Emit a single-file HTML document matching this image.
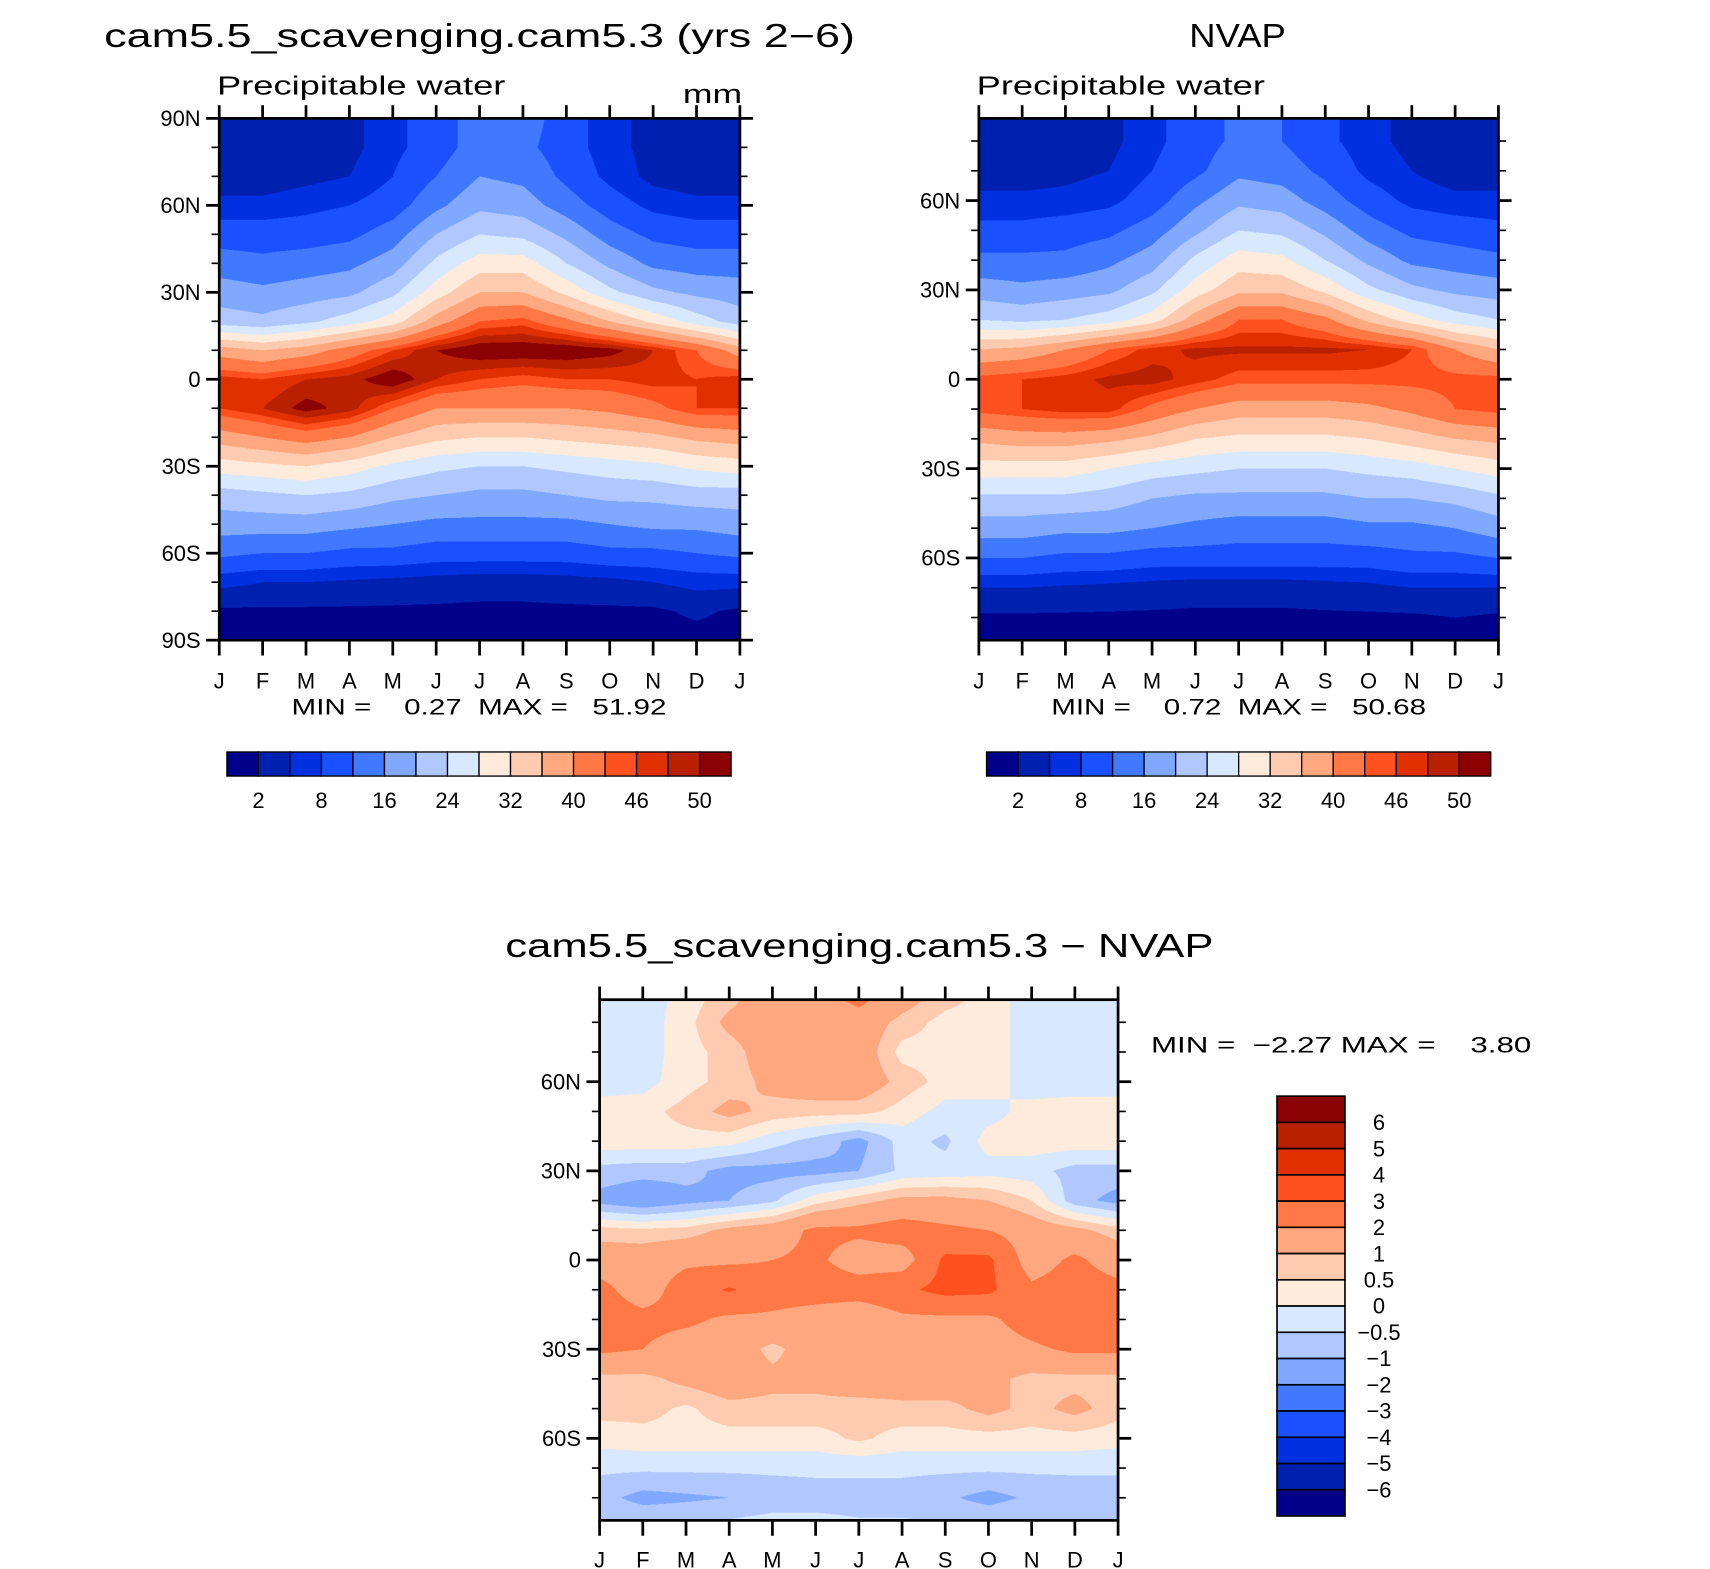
<!DOCTYPE html>
<html><head><meta charset="utf-8">
<style>
html,body{margin:0;padding:0;background:#fff;}
body{width:1710px;height:1568px;overflow:hidden;position:relative;}
#wrap{position:absolute;left:0;top:0;width:1560px;height:1431px;transform:scale(1.09615);transform-origin:0 0;}
canvas{position:absolute;}
#ov{position:absolute;left:0;top:0;}
text{font-family:"Liberation Sans",sans-serif;fill:#000;white-space:pre;}
</style></head>
<body>
<div id="wrap">
<canvas id="c1" style="left:200px;top:108px;width:475px;height:476px" width="950" height="952"></canvas>
<canvas id="c2" style="left:893px;top:108px;width:474px;height:476px" width="948" height="952"></canvas>
<canvas id="c3" style="left:547px;top:912px;width:473px;height:475px" width="946" height="950"></canvas>
<svg id="ov" width="1560" height="1431" viewBox="0 0 1560 1431" xml:space="preserve">
<text x="95" y="43" font-size="30" textLength="685" lengthAdjust="spacingAndGlyphs">cam5.5_scavenging.cam5.3 (yrs 2−6)</text>
<text x="1085" y="43" font-size="30" textLength="88" lengthAdjust="spacingAndGlyphs">NVAP</text>
<text x="198" y="86" font-size="24" textLength="263" lengthAdjust="spacingAndGlyphs">Precipitable water</text>
<text x="623" y="94" font-size="24" textLength="54" lengthAdjust="spacingAndGlyphs">mm</text>
<text x="891" y="86" font-size="24" textLength="263" lengthAdjust="spacingAndGlyphs">Precipitable water</text>
<text x="266" y="652" font-size="20" textLength="342" lengthAdjust="spacingAndGlyphs">MIN =    0.27  MAX =   51.92</text>
<text x="959" y="652" font-size="20" textLength="342" lengthAdjust="spacingAndGlyphs">MIN =    0.72  MAX =   50.68</text>
<text x="461" y="873" font-size="30" textLength="646" lengthAdjust="spacingAndGlyphs">cam5.5_scavenging.cam5.3 − NVAP</text>
<text x="1050" y="960" font-size="20" textLength="347" lengthAdjust="spacingAndGlyphs">MIN =  −2.27 MAX =    3.80</text>
<g id="g"></g>
</svg>
</div>
<script>
const months=['J','F','M','A','M','J','J','A','S','O','N','D','J'];
const lats=[90,80,70,60,50,40,30,20,10,0,-10,-20,-30,-40,-50,-60,-70,-80,-90];
const levelsPW=[2,5,8,12,16,20,24,28,32,36,40,44,46,48,50];
const levelsDiff=[-6,-5,-4,-3,-2,-1,-0.5,0,0.5,1,2,3,4,5,6];
const pwTickLabels=['2','8','16','24','32','40','46','50'];
const diffTickLabels=['−6','−5','−4','−3','−2','−1','−0.5','0','0.5','1','2','3','4','5','6'];
const colors=['#00008b','#0020b0','#0030e0','#1a50ff','#4078ff','#80a8ff','#b0c8ff','#d8e8ff','#ffebdb','#ffcbb0','#ffa880','#ff7845','#ff5020','#e03000','#b82000','#8b0000'];
// model precipitable water (mm): rows = months J..J, cols = lats 90N..90S
const modelPW=[
[3,3,3,6,10,14,18,22,38,47,46,38,30,22,18,13,6,1.5,1],
[3,3,3,6,10,13,17,21,36,46,48,40,31,23,18,12,5,1.5,1],
[4,4,4,7,10,14,18,23,38,48,51,42,32,24,18,12,5,1.5,1],
[4,4,5,8,11,15,19,26,42,49,49,40,30,23,17,11,4.5,1.5,1],
[7,7,8,10,14,18,23,30,46,52,44,36,27,21,16,11,4,1.5,1],
[10,10,12,15,20,25,30,38,50,48,40,33,25,20,15,10,3.5,1.5,1],
[14,14,16,19,24,30,36,44,52,46,40,32,24,19,15,10,3,1.5,1],
[14,13,15,18,23,30,36,45,52,45,40,32,24,19,15,10,3,1.5,1],
[10,10,11,14,19,24,31,41,52,46,40,33,25,20,15,10,3.5,1.5,1],
[6,6,7,10,14,19,25,36,51,46,41,34,26,21,16,11,4,1.5,1],
[4,4,4,7,11,15,21,31,48,47,43,35,27,21,17,11,5,1.5,1],
[3,3,3,6,10,14,19,26,44,46,46,37,29,22,17,12,6,2.5,1],
[3,3,3,6,10,14,18,22,38,47,46,38,30,22,18,13,6,1.5,1]];
// NVAP precipitable water (mm)
const nvapPW=[
[3,3,3,6,9,13,18,24,36,45,45,37,30,23,18,12,5,1.5,1],
[3,3,3,6,9,13,17,23,37,46,46,38,30,23,18,12,5,1.5,1],
[3,3,4,6,10,13,18,24,40,47,47,38,30,23,17,11,4.5,1.5,1],
[4,4,5,7,11,15,19,26,44,48.5,47,37,28,22,17,11,4,1.5,1],
[7,7,8,10,14,18,23,30,47,49,43,35,26,20,16,10,3.5,1.5,1],
[10,10,11,15,19,25,30,38,48.5,47,40,32,25,19,15,10,3,1.5,1],
[13,13,15,19,24,30,35,44,48.5,45,38,31,24,19,14,10,3,1.5,1],
[12,12,14,18,23,29,35,44,48.5,45,38,31,24,19,14,10,3,1.5,1],
[9,9,11,14,19,24,31,41,48.5,45,38,31,24,19,14,10,3.5,1.5,1],
[6,6,7,10,14,19,25,35,48,45,39,32,25,20,15,10,4,1.5,1],
[4,4,5,7,11,15,21,30,46,45,41,34,26,20,15,11,5,1.5,1],
[3,3,3,6,10,14,19,26,40,45,44,36,28,21,16,11,5,2,1],
[3,3,3,6,9,13,18,24,36,45,45,37,30,23,18,12,5,1.5,1]];
// difference model - NVAP (mm)
const diffPW=[
[-0.3,-0.3,-0.3,-0.3,0.3,0.3,-0.7,-1.2,0.7,1.5,2.3,2.5,2.2,0.8,0.7,0.2,-0.4,-0.8,-0.4],
[-0.3,-0.3,-0.3,-0.2,0.3,0.3,-0.8,-1.5,0.6,1.5,1.5,2.3,2.0,0.8,0.7,0.3,-0.4,-1.2,-0.4],
[0.2,0.3,0.3,0.3,0.7,0.3,-0.8,-1.2,0.7,1.8,2.5,2.2,1.5,1.2,0.4,0.3,-0.4,-1.1,-0.4],
[0.7,1.2,0.7,0.7,1.2,0.2,-1.2,-1.0,1.2,1.8,3.1,1.8,1.5,1.5,0.8,0.3,-0.4,-1.0,-0.3],
[1.5,1.5,1.5,1.2,0.8,-0.3,-1.2,-0.6,1.5,2.0,2.5,1.8,0.8,1.2,0.8,0.3,-0.4,-0.8,-0.2],
[1.5,1.5,1.5,1.5,0.7,-0.7,-1.2,0.3,2.2,2.2,2.5,1.5,1.5,1.2,0.8,0.3,-0.4,-0.7,-0.3],
[2.5,1.5,1.5,1.5,0.7,-1.2,-1.0,0.8,2.2,1.5,2.5,1.2,1.5,1.5,0.7,0.6,-0.4,-0.7,-0.4],
[1.5,0.8,0.3,0.8,0.3,-0.3,-0.4,1.2,2.5,1.5,2.8,1.8,1.5,1.5,0.8,0.3,-0.4,-0.7,-0.4],
[0.8,0.3,0.3,0.3,-0.2,-0.6,-0.3,1.2,2.2,3.2,3.3,1.8,1.5,1.5,0.8,0.3,-0.4,-0.9,-0.4],
[0.3,0.3,0.3,0.3,-0.2,0.2,-0.2,1.0,2.0,3.2,3.2,1.8,1.5,1.2,1.2,0.3,-0.4,-1.2,-0.4],
[-0.3,-0.3,-0.3,-0.3,0.2,0.3,-0.3,0.5,1.5,1.5,2.2,2.5,1.8,0.8,0.8,0.3,-0.4,-0.9,-0.4],
[-0.3,-0.3,-0.3,-0.3,0.3,0.3,-0.7,-0.8,1.2,2.2,2.5,3.0,2.2,0.8,1.2,0.3,-0.4,-0.8,-0.4],
[-0.3,-0.3,-0.3,-0.3,0.3,0.3,-0.7,-1.2,0.7,1.5,2.3,2.5,2.2,0.8,0.7,0.2,-0.4,-0.8,-0.4]];

function sample(t,m,lat){
  let i=Math.min(Math.floor(m),11), fm=m-i;
  let jf=(90-lat)/10; jf=Math.max(0,Math.min(18,jf));
  let j=Math.min(Math.floor(jf),17), fl=jf-j;
  const a=t[i][j]*(1-fm)+t[i+1][j]*fm, b=t[i][j+1]*(1-fm)+t[i+1][j+1]*fm;
  return a*(1-fl)+b*fl;
}
function band(v,lev){let k=0;while(k<lev.length&&v>=lev[k])k++;return k;}
const rgb=colors.map(c=>[parseInt(c.substr(1,2),16),parseInt(c.substr(3,2),16),parseInt(c.substr(5,2),16)]);
function drawField(id,t,latMax,lev){
  const cv=document.getElementById(id),ctx=cv.getContext('2d'),W=cv.width,H=cv.height;
  const img=ctx.createImageData(W,H),d=img.data;
  for(let y=0;y<H;y++){const lat=latMax-(y+0.5)/H*2*latMax;
    for(let x=0;x<W;x++){const m=(x+0.5)/W*12;const c=rgb[band(sample(t,m,lat),lev)];const p=(y*W+x)*4;d[p]=c[0];d[p+1]=c[1];d[p+2]=c[2];d[p+3]=255;}}
  ctx.putImageData(img,0,0);
}
drawField('c1',modelPW,90,levelsPW);
drawField('c2',nvapPW,87.6,levelsPW);
drawField('c3',diffPW,87.6,levelsDiff);

const NS='http://www.w3.org/2000/svg',G=document.getElementById('g');
function el(tag,attrs,txt){const e=document.createElementNS(NS,tag);for(const k in attrs)e.setAttribute(k,attrs[k]);if(txt!==undefined)e.textContent=txt;G.appendChild(e);return e;}
function latName(l){return l===0?'0':(Math.abs(l)+(l>0?'N':'S'));}
function axes(pre,x0,y0,w,h,latMax,labels,monthY){
  const ys=l=>y0+(latMax-l)/(2*latMax)*h, xs=m=>x0+m/12*w;
  for(let l=-90;l<=90;l+=10){if(Math.abs(l)>latMax)continue;const y=ys(l);const major=(l%30===0);const L=major?12:7;
    const t1=el('line',{x1:x0-L,x2:x0,y1:y,y2:y,stroke:'#000','stroke-width':major?2.5:1.5});
    
    const t2=el('line',{x1:x0+w,x2:x0+w+L,y1:y,y2:y,stroke:'#000','stroke-width':major?2.5:1.5});
    }
  labels.forEach(l=>{const t=el('text',{x:x0-17,y:ys(l)+7,'font-size':20,'text-anchor':'end'},latName(l));
    });
  months.forEach((mn,i)=>{const x=xs(i);
    const a=el('line',{x1:x,x2:x,y1:y0-12,y2:y0,stroke:'#000','stroke-width':2.5});
    const b=el('line',{x1:x,x2:x,y1:y0+h,y2:y0+h+14,stroke:'#000','stroke-width':2.5});
    const t=el('text',{x:x,y:monthY,'font-size':20,'text-anchor':'middle'},mn);});
  const f=el('rect',{x:x0,y:y0,width:w,height:h,fill:'none',stroke:'#000','stroke-width':2.5});
  
}
axes('model',200,108,475,476,90,[90,60,30,0,-30,-60,-90],628);
axes('nvap',893,108,474,476,87.6,[60,30,0,-30,-60],628);
axes('diff',547,912,473,475,87.6,[60,30,0,-30,-60],1430);

function hbar(pre,x0,y0,w,h){const bw=w/16;
  colors.forEach((c,i)=>{const r=el('rect',{x:x0+i*bw,y:y0,width:bw,height:h,fill:c,stroke:'#000','stroke-width':1.2});
    });
  pwTickLabels.forEach((s,k)=>{const t=el('text',{x:x0+(2*k+1)*bw,y:y0+h+29,'font-size':20,'text-anchor':'middle'},s);
    });
}
hbar('model',207,686,460,22);
hbar('nvap',900,686,460,22);
(function(){const x0=1165,y0=1000,w=62,h=383,bh=h/16;
  colors.slice().reverse().forEach((c,i)=>{const r=el('rect',{x:x0,y:y0+i*bh,width:w,height:bh,fill:c,stroke:'#000','stroke-width':1.5});
    });
  diffTickLabels.slice().reverse().forEach((s,i)=>{const t=el('text',{x:1258,y:y0+(i+1)*bh+7,'font-size':20,'text-anchor':'middle'},s);
    });
})();
</script>
</body></html>
